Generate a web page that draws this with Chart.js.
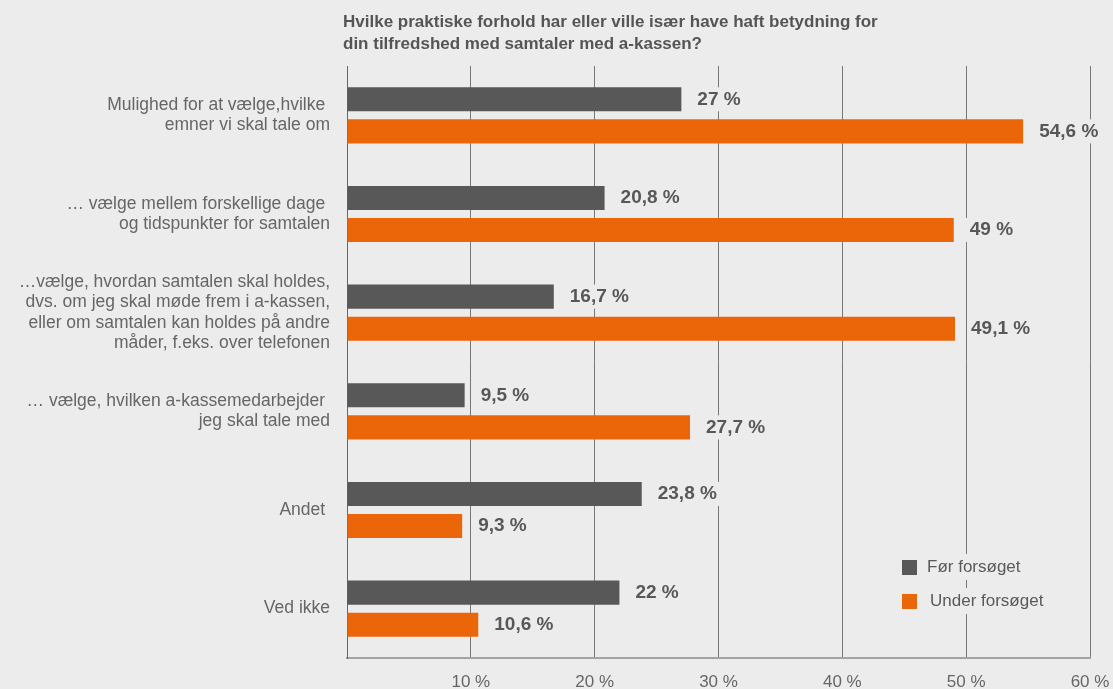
<!DOCTYPE html>
<html>
<head>
<meta charset="utf-8">
<script src="https://cdn.jsdelivr.net/npm/chart.js@4/dist/chart.umd.min.js"></script>
<style>
  html, body { margin: 0; padding: 0; background: #ececec; }
  #wrap { width: 1113px; height: 689px; }
</style>
</head>
<body>
<div id="wrap"><canvas id="chart" width="1113" height="689"></canvas></div>
<script>
// data
const titleLines = [
    'Hvilke praktiske forhold har eller ville især have haft betydning for',
    'din tilfredshed med samtaler med a-kassen?'
];
const categories = [
    ['Mulighed for at vælge,hvilke ', 'emner vi skal tale om'],
    ['… vælge mellem forskellige dage ', 'og tidspunkter for samtalen'],
    ['…vælge, hvordan samtalen skal holdes,', 'dvs. om jeg skal møde frem i a-kassen,', 'eller om samtalen kan holdes på andre', 'måder, f.eks. over telefonen'],
    ['… vælge, hvilken a-kassemedarbejder ', 'jeg skal tale med'],
    ['Andet '],
    ['Ved ikke']
];
const seriesNames = ['Før forsøget', 'Under forsøget'];
const beforeValues = [27, 20.8, 16.7, 9.5, 23.8, 22];
const duringValues = [54.6, 49, 49.1, 27.7, 9.3, 10.6];
const xTicks = [0, 10, 20, 30, 40, 50, 60];

const BG = '#ececec';
const FONT = '"Liberation Sans", Arial, Helvetica, sans-serif';

function fmt(v) {
    return String(v).replace('.', ',') + ' %';
}

// background + title
const bgPlugin = {
    id: 'bg',
    beforeDraw(chart) {
        const ctx = chart.ctx;
        ctx.save();
        ctx.fillStyle = BG;
        ctx.fillRect(0, 0, chart.width, chart.height);
        ctx.fillStyle = '#555';
        ctx.font = 'bold 17px ' + FONT;
        ctx.textBaseline = 'middle';
        ctx.textAlign = 'left';
        titleLines.forEach((l, i) => ctx.fillText(l, 343, 22 + i * 22));
        ctx.restore();
    }
};

// value labels at the end of bars, with a background that hides gridlines
const valuePlugin = {
    id: 'values',
    afterDatasetsDraw(chart) {
        const ctx = chart.ctx;
        ctx.save();
        ctx.font = 'bold 19px ' + FONT;
        ctx.textBaseline = 'middle';
        ctx.textAlign = 'left';
        chart.data.datasets.forEach((ds, di) => {
            chart.getDatasetMeta(di).data.forEach((bar, i) => {
                const txt = fmt(ds.data[i]);
                const w = ctx.measureText(txt).width;
                const x = bar.x + 16;
                ctx.fillStyle = BG;
                ctx.fillRect(x - 4, bar.y - bar.height / 2, w + 8, bar.height);
                ctx.fillStyle = '#585858';
                ctx.fillText(txt, x, bar.y);
            });
        });
        ctx.restore();
    }
};

// legend drawn in the lower right corner
const legendPlugin = {
    id: 'legendBox',
    afterDatasetsDraw(chart) {
        const ctx = chart.ctx;
        ctx.save();
        ctx.font = '17px ' + FONT;
        ctx.textBaseline = 'middle';
        ctx.textAlign = 'left';
        chart.data.datasets.forEach((ds, i) => {
            const y = 567 + i * 34;
            const w = ctx.measureText(ds.label).width;
            ctx.fillStyle = BG;
            ctx.fillRect(923, y - 13, w + 10, 26);
            ctx.fillStyle = ds.backgroundColor;
            ctx.fillRect(902, y - 7, 15, 15);
            ctx.fillStyle = '#5a5a5a';
            ctx.fillText(ds.label, 927 + i * 3, y);
        });
        ctx.restore();
    }
};

new Chart(document.getElementById('chart').getContext('2d'), {
    type: 'bar',
    data: {
        labels: categories,
        datasets: [{
            label: seriesNames[0],
            data: beforeValues,
            backgroundColor: '#585858',
            borderWidth: 0
        }, {
            label: seriesNames[1],
            data: duringValues,
            backgroundColor: '#eb6608',
            borderWidth: 0
        }]
    },
    options: {
        indexAxis: 'y',
        responsive: false,
        animation: false,
        categoryPercentage: 0.65,
        barPercentage: 0.75,
        layout: { padding: { top: 66, right: 23, left: 0, bottom: 0 } },
        plugins: {
            legend: { display: false },
            title: { display: false },
            tooltip: { enabled: false }
        },
        scales: {
            x: {
                min: 0,
                max: 60,
                afterBuildTicks: s => { s.ticks = xTicks.map(v => ({ value: v })); },
                afterFit: s => { s.height = 31; s.paddingLeft = 0; s.paddingRight = 0; },
                grid: { color: '#777', lineWidth: 1, drawTicks: false },
                border: { color: '#a3a3a3', width: 2 },
                ticks: {
                    padding: 14,
                    color: '#666',
                    font: { family: FONT, size: 17 },
                    callback: v => v === 0 ? '' : v + ' %'
                }
            },
            y: {
                afterFit: s => { s.width = 347; s.paddingTop = 0; s.paddingBottom = 0; },
                grid: { display: false, drawTicks: false },
                border: { color: '#666', width: 1 },
                ticks: {
                    padding: 17,
                    color: '#666',
                    font: { family: FONT, size: 17.5, lineHeight: 1.15 }
                }
            }
        }
    },
    plugins: [bgPlugin, valuePlugin, legendPlugin]
});
</script>
</body>
</html>
